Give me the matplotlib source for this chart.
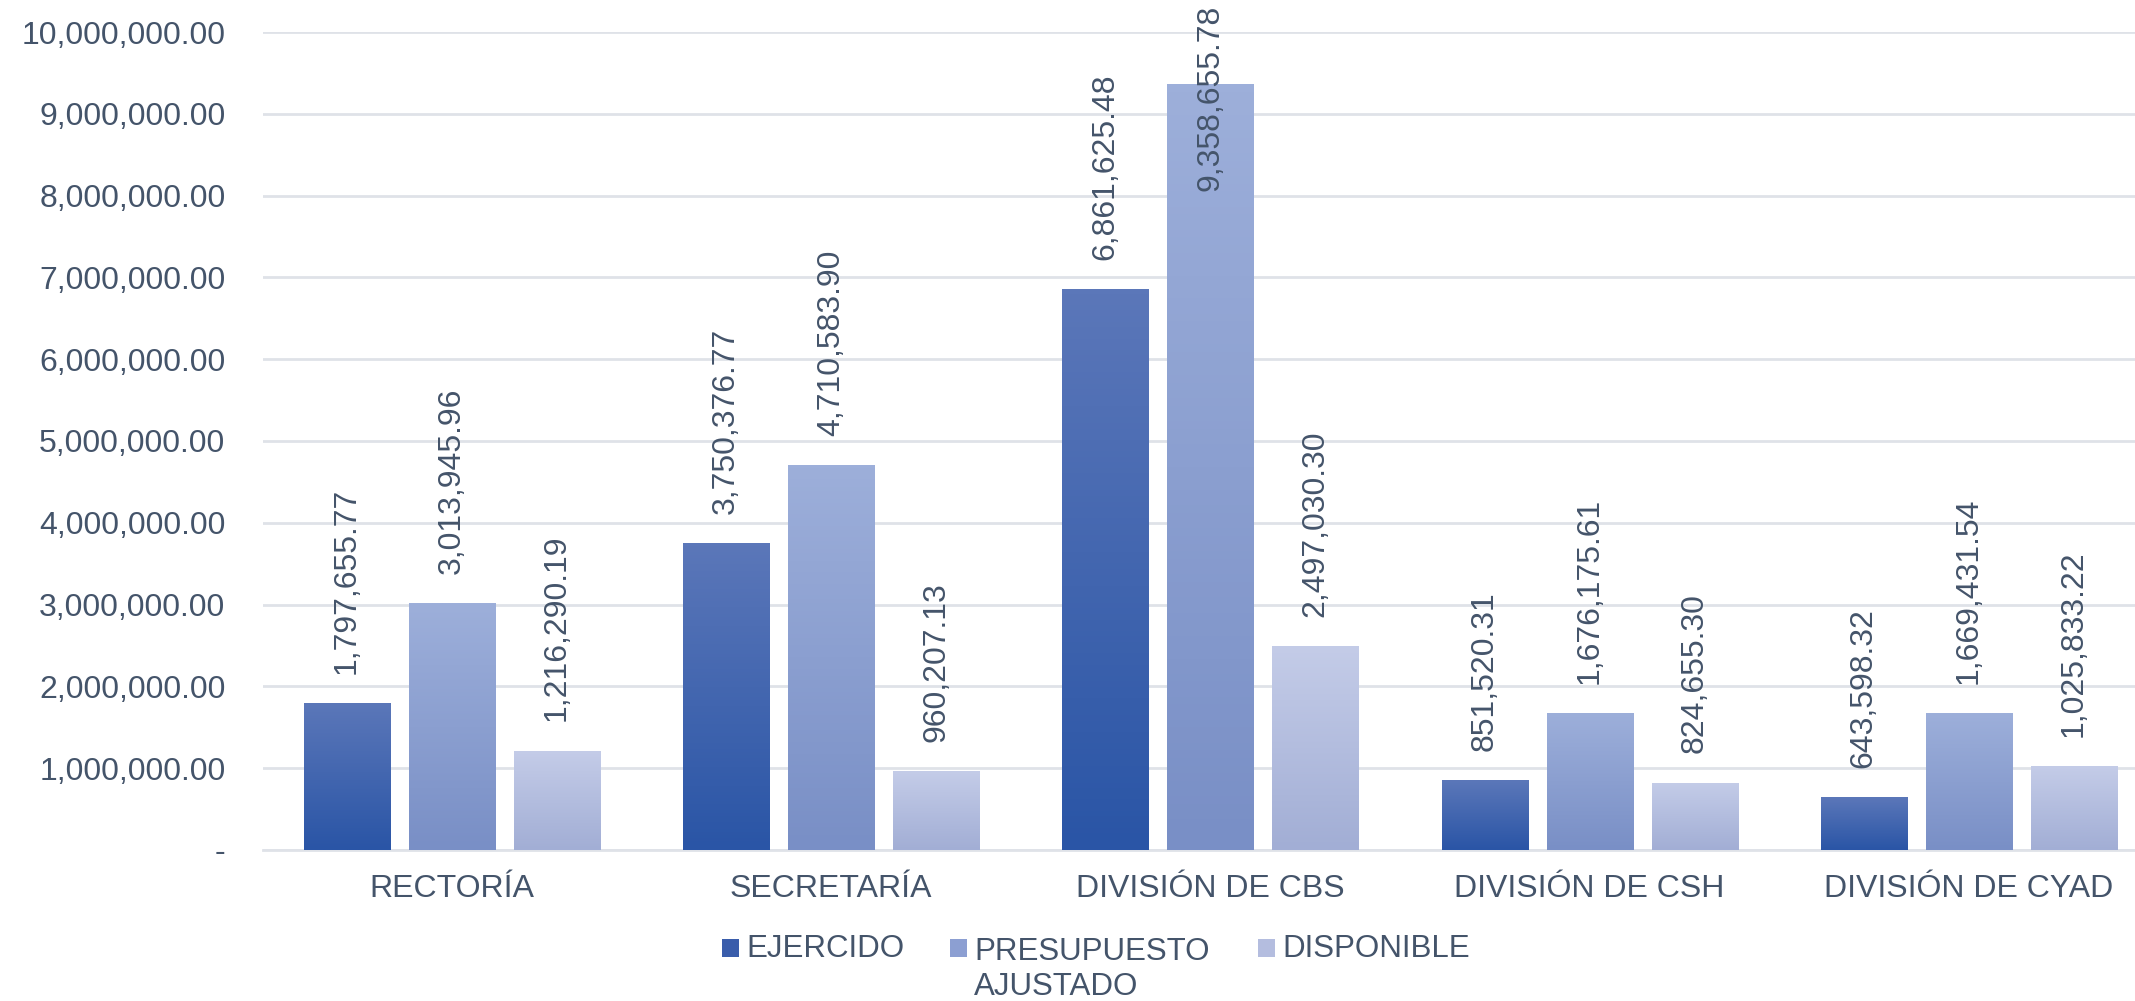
import matplotlib
matplotlib.use('Agg')
import matplotlib.pyplot as plt
import numpy as np
from matplotlib.colors import LinearSegmentedColormap
from matplotlib.patches import Rectangle
from matplotlib.ticker import FuncFormatter

categorias = ['RECTORÍA', 'SECRETARÍA', 'DIVISIÓN DE CBS', 'DIVISIÓN DE CSH', 'DIVISIÓN DE CYAD']
ejercido = [1797655.77, 3750376.77, 6861625.48, 851520.31, 643598.32]
presupuesto = [3013945.96, 4710583.90, 9358655.78, 1676175.61, 1669431.54]
disponible = [1216290.19, 960207.13, 2497030.30, 824655.30, 1025833.22]
series = ['EJERCIDO', 'PRESUPUESTO\nAJUSTADO', 'DISPONIBLE']

# colores de degradado (arriba, abajo)
grad = [('#5b77b9', '#2a55a6'), ('#9dafda', '#798fc6'), ('#c4cce8', '#a2aed5')]
leg_col = ['#3a5dab', '#8c9fd2', '#b4bddf']
txt = '#44546a'

W, H = 2135, 1001
plt.rcParams['font.family'] = ['Liberation Sans', 'DejaVu Sans']
fig = plt.figure(figsize=(W / 100, H / 100), dpi=100)
ax = fig.add_axes([263 / W, 1 - 850 / H, (W - 263) / W, (850 - 32) / H])

x = np.arange(len(categorias))
w = 0.227
step = 0.277
datos = [ejercido, presupuesto, disponible]
for i, vals in enumerate(datos):
    cmap = LinearSegmentedColormap.from_list('g%d' % i, [grad[i][1], grad[i][0]])
    bars = ax.bar(x + (i - 1) * step, vals, w, color=grad[i][1], zorder=2)
    for b, v in zip(bars, vals):
        x0 = b.get_x()
        im = ax.imshow(np.linspace(0, 1, 100).reshape(-1, 1), cmap=cmap, origin='lower',
                       extent=[x0, x0 + w, 0, v], aspect='auto', zorder=3)
        im.set_clip_path(b)
        b.set_facecolor('none')
        xc = x0 + w / 2
        if v > 8500000:
            # no cabe arriba: se pega al borde superior
            ax.annotate(f'{v:,.2f}', (xc, 1 - 5 / H), xycoords=('data', 'figure fraction'),
                        rotation=90, ha='center', va='top', fontsize=23, color=txt,
                        annotation_clip=False, zorder=5)
        else:
            ax.annotate(f'{v:,.2f}', (xc, v), xytext=(0, 21), textcoords='offset points',
                        rotation=90, ha='center', va='bottom', fontsize=23, color=txt,
                        annotation_clip=False)

ax.set_xlim(-0.498, -0.498 + (W - 263) / 379.25)
ax.set_ylim(0, 10000000)
ax.set_yticks(np.arange(0, 10000001, 1000000))
ax.yaxis.set_major_formatter(FuncFormatter(lambda v, p: '-' if v == 0 else f'{v:,.2f}'))
ax.set_xticks(x)
ax.set_xticklabels(categorias)
ax.tick_params(axis='both', length=0, labelsize=23, colors=txt)
ax.tick_params(axis='y', pad=27)
ax.tick_params(axis='x', pad=17)
ax.grid(axis='y', color='#dfe2e8', linewidth=2, zorder=0)
for s in ['top', 'right', 'left']:
    ax.spines[s].set_visible(False)
ax.spines['bottom'].set_color('#dfe2e8')
ax.spines['bottom'].set_linewidth(2)

# leyenda manual (Excel deja la segunda línea colgando)
sq_x = [722, 950, 1258]
for sx, lab, c in zip(sq_x, series, leg_col):
    fig.patches.append(Rectangle((sx / W, 1 - 957 / H), 17 / W, 18 / H, transform=fig.transFigure,
                                 facecolor=c, edgecolor='none'))
    base = 957 + 38 * lab.count('\n')  # va='baseline' usa la última línea
    fig.text((sx + 24) / W, 1 - base / H, lab, ha='left', va='baseline', fontsize=22.5,
             color=txt, linespacing=1.2)

fig.savefig('out.png', dpi=100)
